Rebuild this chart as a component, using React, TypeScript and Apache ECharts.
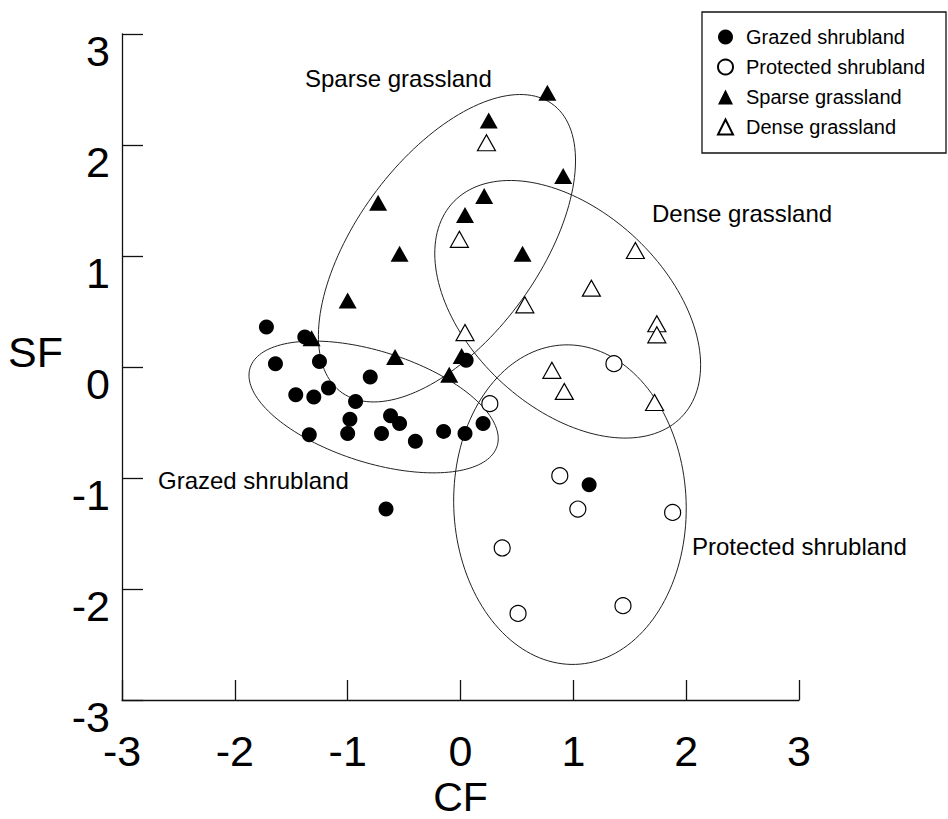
import React, { useEffect, useRef } from "react";
import * as echarts from "echarts";

// ---- data ----
const seriesNames = ["Grazed shrubland", "Protected shrubland", "Sparse grassland", "Dense grassland"];

const grazedShrubland: number[][] = [
  [-1.72, 0.36], [-1.38, 0.27], [-1.64, 0.03], [-1.25, 0.05], [-0.80, -0.09],
  [-1.46, -0.25], [-1.30, -0.27], [-1.17, -0.19], [-0.93, -0.31], [-0.98, -0.47],
  [-1.00, -0.60], [-1.34, -0.61], [-0.62, -0.44], [-0.54, -0.51], [-0.70, -0.60],
  [-0.40, -0.67], [-0.15, -0.58], [0.04, -0.60], [0.20, -0.51], [0.05, 0.06],
  [-0.66, -1.28], [1.14, -1.06],
];

const protectedShrubland: number[][] = [
  [1.36, 0.03], [0.26, -0.33], [0.88, -0.98], [1.04, -1.28],
  [1.88, -1.31], [0.37, -1.63], [0.51, -2.22], [1.44, -2.15],
];

const sparseGrassland: number[][] = [
  [0.77, 2.47], [0.25, 2.22], [0.91, 1.72], [0.21, 1.54], [0.04, 1.37],
  [-0.73, 1.48], [-0.54, 1.02], [0.55, 1.02], [-1.00, 0.60], [-0.58, 0.09],
  [-0.10, -0.07], [0.01, 0.10], [-1.32, 0.26],
];

const denseGrassland: number[][] = [
  [0.23, 2.02], [-0.01, 1.15], [1.55, 1.05], [0.57, 0.56], [1.16, 0.71],
  [0.04, 0.31], [1.74, 0.39], [1.74, 0.29], [0.81, -0.03], [0.92, -0.22],
  [1.72, -0.32],
];

// group ellipses: [centerX, centerY, semiAxisA, semiAxisB, rotationDeg]
const groupEllipses: number[][] = [
  [-0.77, -0.36, 1.15, 0.5, -18],
  [-0.12, 1.07, 1.6, 0.81, 54.5],
  [0.95, 0.52, 1.4, 0.88, -44],
  [0.97, -1.24, 1.03, 1.44, 2],
];

const groupLabels = ["Sparse grassland", "Dense grassland", "Grazed shrubland", "Protected shrubland"];

const axisTicks = [-3, -2, -1, 0, 1, 2, 3];

const FONT = "'Liberation Sans', Arial, Helvetica, sans-serif";

export default function App() {
  const ref = useRef<HTMLDivElement>(null);

  useEffect(() => {
    if (!ref.current) return;
    const chart = echarts.init(ref.current, null, { renderer: "svg" });

    const axisMin = axisTicks[0];
    const axisMax = axisTicks[axisTicks.length - 1];

    const option: any = {
      animation: false,
      backgroundColor: "#fff",
      textStyle: { fontFamily: FONT },
      grid: { left: 122, right: 149, top: 34, bottom: 119, containLabel: false, outerBoundsMode: "none" },
      xAxis: {
        type: "value",
        min: axisMin,
        max: axisMax,
        interval: 1,
        name: "CF",
        nameLocation: "middle",
        nameGap: 77,
        nameTextStyle: { fontSize: 41, color: "#000", fontFamily: FONT, verticalAlign: "top", lineHeight: 36 },
        axisLine: { show: true, onZero: false, lineStyle: { color: "#111", width: 1.3 } },
        axisTick: { show: true, inside: true, length: 20, lineStyle: { color: "#111", width: 1.3 } },
        axisLabel: { fontSize: 43, color: "#000", margin: 29, fontFamily: FONT },
        splitLine: { show: false },
      },
      yAxis: {
        type: "value",
        min: axisMin,
        max: axisMax,
        interval: 1,
        name: "SF",
        nameLocation: "middle",
        nameRotate: 0,
        nameGap: 59,
        nameTextStyle: {
          fontSize: 43, color: "#000", fontFamily: FONT,
          verticalAlign: "bottom", lineHeight: 30,
        },
        axisLine: { show: true, onZero: false, lineStyle: { color: "#111", width: 1.3 } },
        axisTick: { show: true, inside: true, length: 21, lineStyle: { color: "#111", width: 1.3 } },
        axisLabel: {
          fontSize: 43, color: "#000", margin: 12, fontFamily: FONT,
          verticalAlign: "top", lineHeight: 34,
        },
        splitLine: { show: false },
      },
      legend: {
        data: seriesNames,
        orient: "vertical",
        left: 717,
        top: 27,
        padding: 0,
        itemWidth: 15,
        itemHeight: 15,
        itemGap: 10,
        selectedMode: false,
        textStyle: { fontSize: 20, color: "#000", fontFamily: FONT, lineHeight: 20, padding: [0, 0, 0, 8] },
      },
      graphic: [
        {
          type: "rect",
          shape: { x: 702, y: 12, width: 244, height: 141 },
          style: { fill: "none", stroke: "#111", lineWidth: 1.3 },
          silent: true,
        },
        {
          type: "text", x: 305, y: 78,
          style: { text: groupLabels[0], fontSize: 24, fill: "#000", fontFamily: FONT, verticalAlign: "middle", align: "left" },
        },
        {
          type: "text", x: 652, y: 213,
          style: { text: groupLabels[1], fontSize: 24, fill: "#000", fontFamily: FONT, verticalAlign: "middle", align: "left" },
        },
        {
          type: "text", x: 158, y: 480,
          style: { text: groupLabels[2], fontSize: 24, fill: "#000", fontFamily: FONT, verticalAlign: "middle", align: "left" },
        },
        {
          type: "text", x: 692, y: 546,
          style: { text: groupLabels[3], fontSize: 24, fill: "#000", fontFamily: FONT, verticalAlign: "middle", align: "left" },
        },
      ],
      series: [
        {
          type: "custom",
          name: "ellipses",
          data: groupEllipses,
          z: 1,
          silent: true,
          renderItem: (params: any, api: any) => {
            const cx = api.value(0);
            const cy = api.value(1);
            const a = api.value(2);
            const b = api.value(3);
            const t = (api.value(4) * Math.PI) / 180;
            const pts: number[][] = [];
            const n = 160;
            for (let i = 0; i < n; i++) {
              const p = (i / n) * Math.PI * 2;
              const x = cx + a * Math.cos(p) * Math.cos(t) - b * Math.sin(p) * Math.sin(t);
              const y = cy + a * Math.cos(p) * Math.sin(t) + b * Math.sin(p) * Math.cos(t);
              pts.push(api.coord([x, y]));
            }
            return {
              type: "polygon",
              shape: { points: pts },
              style: { fill: "none", stroke: "#222", lineWidth: 1 },
              silent: true,
            };
          },
        },
        {
          type: "scatter",
          name: seriesNames[0],
          data: grazedShrubland,
          symbol: "circle",
          symbolSize: 15,
          itemStyle: { color: "#000", opacity: 1 },
          z: 3,
        },
        {
          type: "scatter",
          name: seriesNames[1],
          data: protectedShrubland,
          symbol: "circle",
          symbolSize: 16,
          itemStyle: { color: "#fff", borderColor: "#000", borderWidth: 1.2, opacity: 1 },
          z: 3,
        },
        {
          type: "scatter",
          name: seriesNames[2],
          data: sparseGrassland,
          symbol: "triangle",
          symbolSize: [18, 16],
          itemStyle: { color: "#000", opacity: 1 },
          z: 3,
        },
        {
          type: "scatter",
          name: seriesNames[3],
          data: denseGrassland,
          symbol: "triangle",
          symbolSize: [18, 16],
          itemStyle: { color: "#fff", borderColor: "#000", borderWidth: 1.2, opacity: 1 },
          z: 3,
        },
      ],
    };

    chart.setOption(option);
    return () => {
      chart.dispose();
    };
  }, []);

  return (
    <div
      ref={ref}
      style={{ position: "absolute", left: 0, top: 0, width: 948, height: 819, background: "#fff" }}
    />
  );
}
